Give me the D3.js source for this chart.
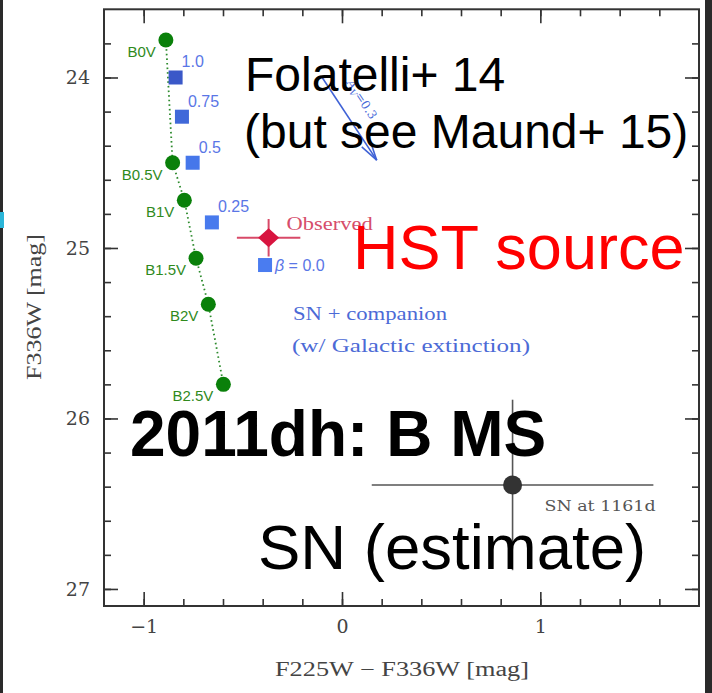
<!DOCTYPE html>
<html>
<head>
<meta charset="utf-8">
<script src="https://cdn.jsdelivr.net/npm/d3@7"></script>
<style>
  html, body { margin: 0; padding: 0; background: #fff; }
  svg { display: block; }
</style>
</head>
<body>
<svg id="chart" width="712" height="693"></svg>
<script>
// Main-sequence B stars (colour, magnitude)
const spectralTypes = ["B0V", "B0.5V", "B1V", "B1.5V", "B2V", "B2.5V"];
const msColor = [-0.888, -0.854, -0.795, -0.736, -0.674, -0.598];
const msMag = [23.78, 24.50, 24.72, 25.06, 25.33, 25.80];

// SN + companion models for different beta
const betaValues = [1.0, 0.75, 0.5, 0.25, 0.0];
const betaLabels = ["1.0", "0.75", "0.5", "0.25", "\u03b2 = 0.0"];
const betaColor = [-0.839, -0.807, -0.753, -0.656, -0.388];
const betaMag = [24.00, 24.23, 24.50, 24.85, 25.10];

// Observed source with errors
const observedColor = [-0.37];
const observedColorErr = [0.16];
const observedMag = [24.94];
const observedMagErr = [0.11];

// SN estimate at 1161 d
const snColor = [0.86];
const snColorErr = [0.71];
const snMag = [26.39];
const snMagErr = [0.50];

// Reddening vector (A_V = 0.3)
const reddenStart = [-0.10, 24.00];
const reddenEnd = [0.175, 24.485];

// Axis ticks
const xMajorTicks = [-1, 0, 1];
const xMinorTicks = d3.range(-1.2, 1.81, 0.2).map(v => +v.toFixed(1)).filter(v => v > -1.2 && v < 1.8);
const yMajorTicks = [24, 25, 26, 27];
const yMinorTicks = d3.range(23.8, 27.01, 0.2).map(v => +v.toFixed(1));

const svg = d3.select("#chart");
const W = 712, H = 693;
const L = 104, R = 699, T = 9.3, B = 606;

const x = d3.scaleLinear().domain([-1.2, 1.8]).range([L, R]);
const y = d3.scaleLinear().domain([23.6, 27.1]).range([T, B]);

// page edges
svg.append("rect").attr("x", 0).attr("y", 0).attr("width", W).attr("height", H).attr("fill", "#fff");
svg.append("rect").attr("x", 0).attr("y", 0).attr("width", 3).attr("height", H).attr("fill", "#2a2a2a");
svg.append("rect").attr("x", 0).attr("y", 212).attr("width", 4).attr("height", 16).attr("fill", "#2bb5d8");
svg.append("rect").attr("x", 705).attr("y", 0).attr("width", 7).attr("height", H).attr("fill", "#2a2a2a");

const axisColor = "#333";
const tickFont = "'DejaVu Serif', serif";
const serifFont = "'Liberation Serif', 'DejaVu Serif', serif";

function styleAxis(g) {
  g.select(".domain").remove();
  g.selectAll(".tick line").attr("stroke", axisColor).attr("stroke-width", 1.6);
  g.selectAll(".tick text").attr("fill", "#444").style("font-family", tickFont).style("font-size", "19px");
}

// minor ticks on all sides
svg.append("g").attr("transform", `translate(0,${B})`)
  .call(d3.axisBottom(x).tickValues(xMinorTicks).tickSize(-7).tickFormat(""))
  .call(styleAxis);
svg.append("g").attr("transform", `translate(0,${T})`)
  .call(d3.axisTop(x).tickValues(xMinorTicks).tickSize(-7).tickFormat(""))
  .call(styleAxis);
svg.append("g").attr("transform", `translate(${L},0)`)
  .call(d3.axisLeft(y).tickValues(yMinorTicks).tickSize(-7).tickFormat(""))
  .call(styleAxis);
svg.append("g").attr("transform", `translate(${R},0)`)
  .call(d3.axisRight(y).tickValues(yMinorTicks).tickSize(-7).tickFormat(""))
  .call(styleAxis);

// major ticks
svg.append("g").attr("transform", `translate(0,${B})`)
  .call(d3.axisBottom(x).tickValues(xMajorTicks).tickSize(-14).tickPadding(13).tickFormat(d3.format("d")))
  .call(styleAxis)
  .call(g => g.selectAll(".tick text").attr("dy", "0.72em"));
svg.append("g").attr("transform", `translate(0,${T})`)
  .call(d3.axisTop(x).tickValues(xMajorTicks).tickSize(-14).tickFormat(""))
  .call(styleAxis);
svg.append("g").attr("transform", `translate(${L},0)`)
  .call(d3.axisLeft(y).tickValues(yMajorTicks).tickSize(-14).tickPadding(14).tickFormat(d3.format("d")))
  .call(styleAxis);
svg.append("g").attr("transform", `translate(${R},0)`)
  .call(d3.axisRight(y).tickValues(yMajorTicks).tickSize(-14).tickFormat(""))
  .call(styleAxis);

// frame
svg.append("rect").attr("x", L).attr("y", T).attr("width", R - L).attr("height", B - T)
  .attr("fill", "none").attr("stroke", axisColor).attr("stroke-width", 2);

// axis titles
svg.append("text")
  .attr("x", 402).attr("y", 676)
  .attr("text-anchor", "middle")
  .attr("fill", "#444")
  .style("font-family", serifFont).style("font-size", "20px")
  .attr("textLength", 254).attr("lengthAdjust", "spacingAndGlyphs")
  .text("F225W \u2212 F336W [mag]");
svg.append("text")
  .attr("transform", "translate(41,307) rotate(-90)")
  .attr("text-anchor", "middle")
  .attr("fill", "#444")
  .style("font-family", serifFont).style("font-size", "20px")
  .attr("textLength", 146).attr("lengthAdjust", "spacingAndGlyphs")
  .text("F336W [mag]");

// main-sequence track
const ms = spectralTypes.map((t, i) => ({ t, c: msColor[i], m: msMag[i] }));
svg.append("path")
  .datum(ms)
  .attr("fill", "none")
  .attr("stroke", "#2e8b2e")
  .attr("stroke-width", 1.8)
  .attr("stroke-dasharray", "1.6,3")
  .attr("d", d3.line().x(d => x(d.c)).y(d => y(d.m)));
svg.append("g").selectAll("circle").data(ms).join("circle")
  .attr("cx", d => x(d.c)).attr("cy", d => y(d.m)).attr("r", 7.5)
  .attr("fill", "#0a800a");
svg.append("g").selectAll("text").data(ms).join("text")
  .attr("x", d => x(d.c) - 10).attr("y", d => y(d.m) + 17)
  .attr("text-anchor", "end")
  .attr("fill", "#2f8a1c")
  .style("font-family", "'Liberation Sans', Arial, sans-serif").style("font-size", "15px")
  .text(d => d.t);

// SN + companion models
const models = betaValues.map((b, i) => ({ b, label: betaLabels[i], c: betaColor[i], m: betaMag[i] }));
const betaFill = d3.scaleLinear().domain([0, 0.5, 1]).range(["#4a7cf0", "#4677ea", "#3a58c8"]);
const sq = 14;
svg.append("g").selectAll("rect").data(models).join("rect")
  .attr("x", d => x(d.c) - sq / 2).attr("y", d => y(d.m) - sq / 2)
  .attr("width", sq).attr("height", sq)
  .attr("fill", d => betaFill(d.b));
svg.append("g").selectAll("text").data(models).join("text")
  .attr("x", d => d.b === 0 ? x(d.c) + 10 : x(d.c) + 6)
  .attr("y", d => d.b === 0 ? y(d.m) + 6 : y(d.m) - 10)
  .attr("fill", "#5a76e6")
  .style("font-family", "'Liberation Sans', Arial, sans-serif").style("font-size", "16px")
  .each(function (d) {
    const t = d3.select(this);
    if (d.b === 0) {
      t.append("tspan").style("font-style", "italic").text("\u03b2");
      t.append("tspan").text(" = 0.0");
    } else {
      t.text(d.label);
    }
  });

// reddening vector
const rx0 = x(reddenStart[0]), ry0 = y(reddenStart[1]);
const rx1 = x(reddenEnd[0]), ry1 = y(reddenEnd[1]);
const ang = Math.atan2(ry1 - ry0, rx1 - rx0);
const blue = "#3f62d6";
svg.append("line").attr("x1", rx0).attr("y1", ry0).attr("x2", rx1).attr("y2", ry1)
  .attr("stroke", blue).attr("stroke-width", 1.6);
[-0.26, 0.26].forEach(da => {
  svg.append("line")
    .attr("x1", rx1).attr("y1", ry1)
    .attr("x2", rx1 - 20 * Math.cos(ang + da)).attr("y2", ry1 - 20 * Math.sin(ang + da))
    .attr("stroke", blue).attr("stroke-width", 1.6);
});
{
  const len = Math.hypot(rx1 - rx0, ry1 - ry0);
  const ux = (rx1 - rx0) / len, uy = (ry1 - ry0) / len;
  const px = rx0 + ux * 40 + uy * 17, py = ry0 + uy * 40 - ux * 17;
  const av = svg.append("text")
    .attr("transform", `translate(${px},${py}) rotate(${ang * 180 / Math.PI})`)
    .attr("text-anchor", "middle")
    .attr("fill", "#4a6ad8")
    .style("font-family", "'DejaVu Serif', serif").style("font-size", "12px");
  av.append("tspan").style("font-style", "italic").text("A");
  av.append("tspan").attr("dy", 3).style("font-size", "9px").style("font-style", "italic").text("V");
  av.append("tspan").attr("dy", -3).text("=0.3");
}

// observed source
const obs = observedColor.map((c, i) => ({ c, ce: observedColorErr[i], m: observedMag[i], me: observedMagErr[i] }));
const obsG = svg.append("g");
obsG.selectAll("line.h").data(obs).join("line").attr("class", "h")
  .attr("x1", d => x(d.c - d.ce)).attr("x2", d => x(d.c + d.ce))
  .attr("y1", d => y(d.m)).attr("y2", d => y(d.m))
  .attr("stroke", "#d84a68").attr("stroke-width", 2);
obsG.selectAll("line.v").data(obs).join("line").attr("class", "v")
  .attr("x1", d => x(d.c)).attr("x2", d => x(d.c))
  .attr("y1", d => y(d.m - d.me)).attr("y2", d => y(d.m + d.me))
  .attr("stroke", "#d84a68").attr("stroke-width", 2);
obsG.selectAll("path").data(obs).join("path")
  .attr("transform", d => `translate(${x(d.c)},${y(d.m)})`)
  .attr("d", "M0,-9.5L10.5,0L0,9.5L-10.5,0Z")
  .attr("fill", "#d8143f");
obsG.selectAll("text").data(obs).join("text")
  .attr("x", d => x(d.c) + 18).attr("y", d => y(d.m) - 8)
  .attr("fill", "#d64d6b")
  .style("font-family", serifFont).style("font-size", "18px")
  .attr("textLength", 86).attr("lengthAdjust", "spacingAndGlyphs")
  .text("Observed");

// model description
svg.append("text").attr("x", 293).attr("y", 320)
  .attr("fill", "#4c6ad6")
  .style("font-family", serifFont).style("font-size", "18px")
  .attr("textLength", 154).attr("lengthAdjust", "spacingAndGlyphs")
  .text("SN + companion");
svg.append("text").attr("x", 292).attr("y", 352)
  .attr("fill", "#4c6ad6")
  .style("font-family", serifFont).style("font-size", "18px")
  .attr("textLength", 238).attr("lengthAdjust", "spacingAndGlyphs")
  .text("(w/ Galactic extinction)");

// SN estimate
const sn = snColor.map((c, i) => ({ c, ce: snColorErr[i], m: snMag[i], me: snMagErr[i] }));
const snG = svg.append("g");
snG.selectAll("line.h").data(sn).join("line").attr("class", "h")
  .attr("x1", d => x(d.c - d.ce)).attr("x2", d => x(d.c + d.ce))
  .attr("y1", d => y(d.m)).attr("y2", d => y(d.m))
  .attr("stroke", "#555").attr("stroke-width", 1.6);
snG.selectAll("line.v").data(sn).join("line").attr("class", "v")
  .attr("x1", d => x(d.c)).attr("x2", d => x(d.c))
  .attr("y1", d => y(d.m - d.me)).attr("y2", d => y(d.m + d.me))
  .attr("stroke", "#555").attr("stroke-width", 1.6);
snG.selectAll("circle").data(sn).join("circle")
  .attr("cx", d => x(d.c)).attr("cy", d => y(d.m)).attr("r", 9.5)
  .attr("fill", "#333");
snG.selectAll("text").data(sn).join("text")
  .attr("x", d => x(d.c) + 32).attr("y", d => y(d.m) + 26)
  .attr("fill", "#555")
  .style("font-family", "'DejaVu Serif', serif").style("font-size", "15px")
  .attr("textLength", 111).attr("lengthAdjust", "spacingAndGlyphs")
  .text("SN at 1161d");

// annotations
const sans = "'Liberation Sans', Arial, Helvetica, sans-serif";
svg.append("text").attr("x", 245).attr("y", 91)
  .attr("fill", "#000").style("font-family", sans).style("font-size", "48px")
  .text("Folatelli+ 14");
svg.append("text").attr("x", 244).attr("y", 148)
  .attr("fill", "#000").style("font-family", sans).style("font-size", "48px")
  .text("(but see Maund+ 15)");
svg.append("text").attr("x", 353).attr("y", 269)
  .attr("fill", "#ff0000").style("font-family", sans).style("font-size", "63px")
  .text("HST source");
svg.append("text").attr("x", 130).attr("y", 456)
  .attr("fill", "#000").style("font-family", sans).style("font-size", "64px").style("font-weight", "bold")
  .text("2011dh: B MS");
svg.append("text").attr("x", 258).attr("y", 569)
  .attr("fill", "#000").style("font-family", sans).style("font-size", "63.5px")
  .text("SN (estimate)");
</script>
</body>
</html>
